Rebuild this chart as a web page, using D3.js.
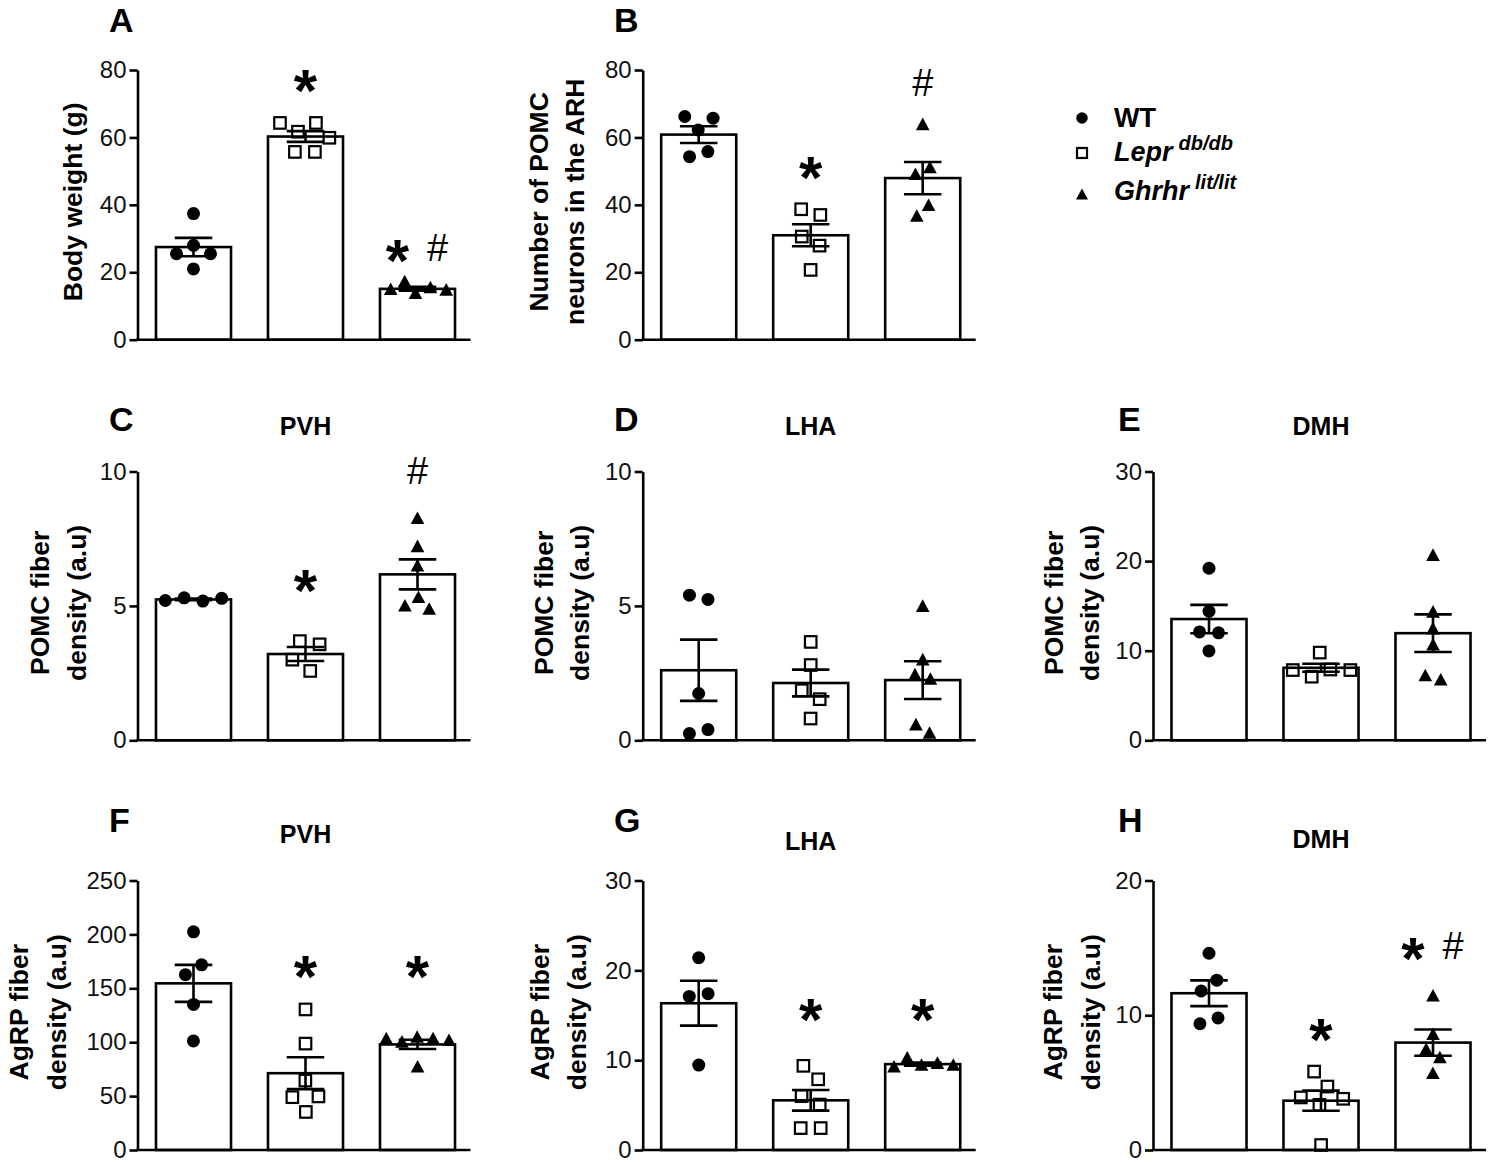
<!DOCTYPE html>
<html><head><meta charset="utf-8">
<script src="https://cdn.jsdelivr.net/npm/d3@7"></script>
<style>
body{margin:0;background:#fff}
svg{display:block}
text{font-family:"Liberation Sans", Arial, Helvetica, sans-serif}
</style>
</head><body>
<svg id="chart" width="1488" height="1162"></svg>
<script>
// ---------------- DATA ----------------
const groups = ["WT", "Lepr", "Ghrhr"];
const panelIds = ["A", "B", "C", "D", "E", "F", "G", "H"];
const panelTitles = ["", "", "PVH", "LHA", "DMH", "PVH", "LHA", "DMH"];
const yLabelsA = ["Body weight (g)"];
const yLabelsB = ["Number of POMC", "neurons in the ARH"];
const yLabelsPOMC = ["POMC fiber", "density (a.u)"];
const yLabelsAgRP = ["AgRP fiber", "density (a.u)"];

const ticksA = [0, 20, 40, 60, 80];
const ticksB = [0, 20, 40, 60, 80];
const ticksC = [0, 5, 10];
const ticksD = [0, 5, 10];
const ticksE = [0, 10, 20, 30];
const ticksF = [0, 50, 100, 150, 200, 250];
const ticksG = [0, 10, 20, 30];
const ticksH = [0, 10, 20];

// individual animals per group: [WT, Lepr db/db, Ghrhr lit/lit]
const valuesA = [[37.4, 28, 25.5, 25.5, 21], [64.3, 64.3, 61.7, 59.9, 55.7, 55.7], [17.1, 15.3, 14.8, 14.6, 13.6]];
const valuesB = [[66.2, 65.7, 62.2, 55.8, 54.3], [38.7, 37, 30.6, 27.9, 20.7], [63.7, 50.9, 48.9, 39.7, 36.5]];
const valuesC = [[5.28, 5.18, 5.2, 5.3], [3.69, 3.57, 3.0, 2.58], [8.24, 7.19, 6.47, 5.3, 4.86, 4.98]];
const valuesD = [[5.4, 5.24, 1.74, 0.4, 0.25], [3.66, 2.8, 1.86, 1.53, 0.81], [4.97, 2.98, 2.42, 2.26, 0.56, 0.25]];
const valuesE = [[19.2, 14.4, 12.1, 12.0, 9.97], [9.79, 7.9, 7.84, 7.84, 7.1], [20.6, 14.27, 12.4, 10.6, 7.17, 6.69]];
const valuesF = [[202.4, 171.8, 162.6, 135, 101.2], [130.4, 98.7, 64.4, 49.7, 49, 35.3], [104.3, 102.8, 102.8, 101.2, 99.7, 76.7]];
const valuesG = [[21.4, 17.4, 17.1, 9.45], [9.37, 7.87, 6.0, 5.06, 2.44, 2.44], [10.2, 9.6, 9.4, 9.4, 9.2]];
const valuesH = [[14.6, 12.6, 11.8, 9.8, 9.37], [5.82, 4.71, 3.9, 3.8, 3.35, 0.37], [11.4, 8.55, 7.43, 6.82, 5.65]];

// significance marks per group and the data level they are written at
const sigA = [[], ["*"], ["*", "#"]];   const sigLevelA = [null, 77.9, 27.4];
const sigB = [[], ["*"], ["#"]];        const sigLevelB = [null, 51.9, 76.4];
const sigC = [[], ["*"], ["#"]];        const sigLevelC = [null, 6.06, 10.04];
const sigD = [[], [], []];              const sigLevelD = [null, null, null];
const sigE = [[], [], []];              const sigLevelE = [null, null, null];
const sigF = [[], ["*"], ["*"]];        const sigLevelF = [null, 173, 173];
const sigG = [[], ["*"], ["*"]];        const sigLevelG = [null, 16.0, 16.0];
const sigH = [[], ["*"], ["*", "#"]];   const sigLevelH = [null, 9.15, 15.2];

const legendNames = ["WT", "Lepr", "Ghrhr"];
const legendSups = ["", "db/db", "lit/lit"];

// ---------------- LAYOUT ----------------
const panels = [
  {id:"A", values:valuesA, ticks:ticksA, labels:yLabelsA,    sig:sigA, sigLevel:sigLevelA, col:0, row:0, lab:[-56]},
  {id:"B", values:valuesB, ticks:ticksB, labels:yLabelsB,    sig:sigB, sigLevel:sigLevelB, col:1, row:0, lab:[-95, -59]},
  {id:"C", values:valuesC, ticks:ticksC, labels:yLabelsPOMC, sig:sigC, sigLevel:sigLevelC, col:0, row:1, lab:[-89, -52]},
  {id:"D", values:valuesD, ticks:ticksD, labels:yLabelsPOMC, sig:sigD, sigLevel:sigLevelD, col:1, row:1, lab:[-90, -54]},
  {id:"E", values:valuesE, ticks:ticksE, labels:yLabelsPOMC, sig:sigE, sigLevel:sigLevelE, col:2, row:1, lab:[-90, -54]},
  {id:"F", values:valuesF, ticks:ticksF, labels:yLabelsAgRP, sig:sigF, sigLevel:sigLevelF, col:0, row:2, lab:[-110, -72], titleY:843},
  {id:"G", values:valuesG, ticks:ticksG, labels:yLabelsAgRP, sig:sigG, sigLevel:sigLevelG, col:1, row:2, lab:[-94, -57], titleY:850},
  {id:"H", values:valuesH, ticks:ticksH, labels:yLabelsAgRP, sig:sigH, sigLevel:sigLevelH, col:2, row:2, lab:[-91, -53], titleY:848}
];
const colX = [137.5, 642.7, 1153];
const letterX = [109, 614, 1118];
const rowTop = [70, 471.5, 880.5];
const rowBottom = [339.7, 740.3, 1150];
const letterY = [32, 431, 832];
const titleYRow = [0, 435, 846];
const axisLen = 333;
const LW = 2.6;
const collideR = [9.5, 10, 8];

const svg = d3.select("#chart");

const mean = a => d3.mean(a);
const sem = a => d3.deviation(a) / Math.sqrt(a.length);

// scatter spreading (beeswarm with fixed y)
function swarm(vals, y, r) {
  const order = vals.map((v, i) => i).sort((a, b) => vals[b] - vals[a]);
  const nodes = vals.map((v, i) => ({i, y: y(v), fy: y(v), x: 0}));
  order.forEach((i, k) => { nodes[i].x = (k % 2 ? 1 : -1) * 0.6 * k; });
  const sim = d3.forceSimulation(nodes)
    .force("x", d3.forceX(0).strength(0.05))
    .force("c", d3.forceCollide(r).iterations(4))
    .stop();
  for (let t = 0; t < 300; t++) sim.tick();
  return nodes.map(n => n.x);
}

function drawMarker(g, gi, cx, cy, size) {
  if (gi === 0) {
    g.append("circle").attr("cx", cx).attr("cy", cy).attr("r", size / 2).attr("fill", "#000");
  } else if (gi === 1) {
    const s = size - 1.5;
    g.append("rect").attr("x", cx - s / 2).attr("y", cy - s / 2).attr("width", s).attr("height", s)
      .attr("fill", "none").attr("stroke", "#000").attr("stroke-width", 2.2);
  } else {
    const h = size * 0.95, w = size * 1.05;
    g.append("path").attr("d", `M${cx},${cy - h * 0.6}L${cx + w / 2},${cy + h * 0.42}L${cx - w / 2},${cy + h * 0.42}Z`)
      .attr("fill", "#000");
  }
}

panels.forEach((p, pi) => {
  const ax = colX[p.col];
  const yTop = rowTop[p.row], y0 = rowBottom[p.row];
  const dom = d3.extent(p.ticks);
  const y = d3.scaleLinear().domain(dom).range([y0, yTop]);
  const x = d3.scaleBand().domain(groups).range([ax, ax + 336]).paddingInner(0.33).paddingOuter(0.165);
  const g = svg.append("g");

  // bars
  groups.forEach((grp, gi) => {
    const vals = p.values[gi];
    const m = mean(vals);
    g.append("rect").attr("x", x(grp)).attr("y", y(m)).attr("width", x.bandwidth()).attr("height", y0 - y(m))
      .attr("fill", "#fff").attr("stroke", "#000").attr("stroke-width", LW);
  });
  // points
  groups.forEach((grp, gi) => {
    const vals = p.values[gi];
    const cx = x(grp) + x.bandwidth() / 2;
    const offs = swarm(vals, y, collideR[gi]);
    vals.forEach((v, i) => drawMarker(g, gi, cx + offs[i], y(v), 13));
  });
  // error bars
  groups.forEach((grp, gi) => {
    const vals = p.values[gi];
    const m = mean(vals), e = sem(vals);
    const cx = x(grp) + x.bandwidth() / 2;
    const cw = x.bandwidth() * 0.25;
    g.append("line").attr("x1", cx).attr("x2", cx).attr("y1", y(m + e)).attr("y2", y(m - e))
      .attr("stroke", "#000").attr("stroke-width", LW);
    [m + e, m - e].forEach(v => g.append("line").attr("x1", cx - cw).attr("x2", cx + cw)
      .attr("y1", y(v)).attr("y2", y(v)).attr("stroke", "#000").attr("stroke-width", LW));
  });
  // significance
  groups.forEach((grp, gi) => {
    const marks = p.sig[gi];
    if (!marks.length) return;
    const cx = x(grp) + x.bandwidth() / 2;
    const cy = y(p.sigLevel[gi]);
    marks.forEach((mk, k) => {
      const dx = marks.length === 1 ? 0 : (k === 0 ? -20 : 20);
      if (mk === "*") {
        g.append("text").attr("x", cx + dx).attr("y", cy + 0.56 * 60).attr("text-anchor", "middle")
          .attr("font-size", 60).attr("font-weight", "bold").text("*");
      } else {
        g.append("text").attr("x", cx + dx).attr("y", cy + 0.36 * 38).attr("text-anchor", "middle")
          .attr("font-size", 38).text("#");
      }
    });
  });

  // y axis
  const yAxis = d3.axisLeft(y).tickValues(p.ticks).tickSize(8).tickSizeOuter(0).tickPadding(3).tickFormat(d3.format("d"));
  const ag = g.append("g").attr("transform", `translate(${ax},0)`).call(yAxis);
  ag.select(".domain").attr("stroke", "#000").attr("stroke-width", LW);
  ag.selectAll(".tick line").attr("stroke", "#000").attr("stroke-width", LW);
  ag.selectAll(".tick text").attr("font-size", 24).attr("fill", "#111")
    .attr("font-family", '"Liberation Sans", Arial, sans-serif');
  // x axis line
  g.append("line").attr("x1", ax - LW / 2).attr("x2", ax + axisLen).attr("y1", y0).attr("y2", y0)
    .attr("stroke", "#000").attr("stroke-width", LW);

  // y label
  const cyLab = (yTop + y0) / 2 - 3;
  p.labels.forEach((t, li) => {
    g.append("text").attr("transform", `translate(${ax + p.lab[li]},${cyLab}) rotate(-90)`)
      .attr("text-anchor", "middle").attr("font-size", 26.5).attr("font-weight", "bold").text(t);
  });

  // panel letter
  g.append("text").attr("x", letterX[p.col]).attr("y", letterY[p.row]).attr("font-size", 34)
    .attr("font-weight", "bold").text(p.id);
  // title
  const title = panelTitles[pi];
  if (title) {
    g.append("text").attr("x", x("Lepr") + x.bandwidth() / 2).attr("y", p.titleY || titleYRow[p.row])
      .attr("text-anchor", "middle").attr("font-size", 25).attr("font-weight", "bold").text(title);
  }
});

// legend
const lg = svg.append("g");
const legY = [118, 153, 195];
const legTextY = [127, 161, 200];
legendNames.forEach((n, i) => {
  drawMarker(lg, i, 1082, legY[i], 11.5);
  const t = lg.append("text").attr("x", 1114).attr("y", legTextY[i]).attr("font-size", 27).attr("font-weight", "bold")
    .attr("font-style", i === 0 ? "normal" : "italic");
  t.append("tspan").text(n);
  if (legendSups[i]) {
    t.append("tspan").attr("dx", 6).attr("dy", -11).attr("font-size", 20).text(legendSups[i]);
  }
});
</script>
</body></html>
